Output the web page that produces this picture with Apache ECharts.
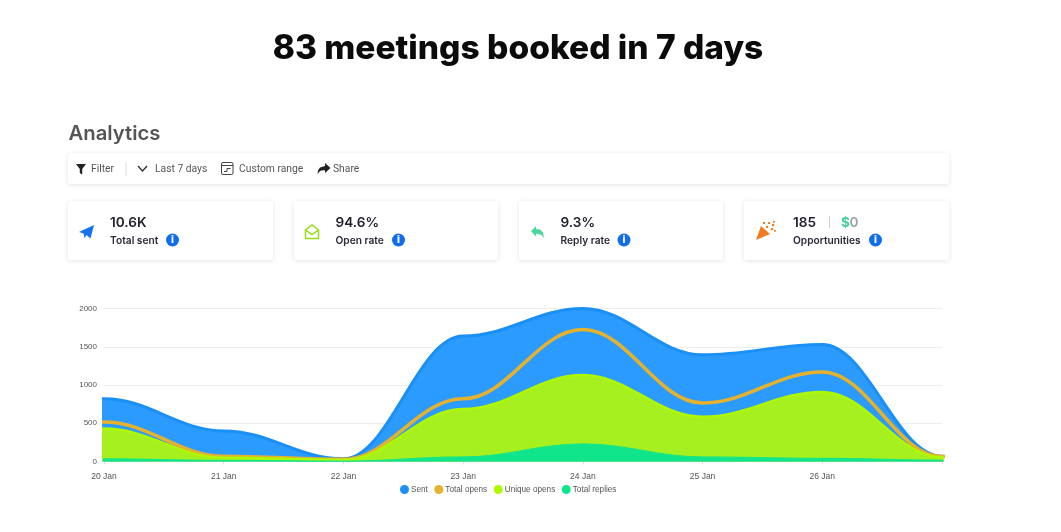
<!DOCTYPE html>
<html>
<head>
<meta charset="utf-8">
<title>83 meetings booked in 7 days</title>
<script src="https://cdn.jsdelivr.net/npm/echarts@6/dist/echarts.min.js"></script>
<style>
html,body{margin:0;padding:0;background:#fff}
#main{width:1061px;height:532px}
</style>
</head>
<body>
<div id="main"></div>
<script>
// Daily campaign figures
const days = ['20 Jan','21 Jan','22 Jan','23 Jan','24 Jan','25 Jan','26 Jan',''];
const sent = [820,400,35,1640,2000,1395,1530,70];
const totalOpens = [515,70,28,820,1725,765,1170,65];
const uniqueOpens = [430,50,20,685,1130,585,910,55];
const totalReplies = [35,15,5,60,230,60,42,18];
const yTicks = [0,500,1000,1500,2000];

// Summary cards
const cardValues = ['10.6K','94.6%','9.3%','185'];
const cardLabels = ['Total sent','Open rate','Reply rate','Opportunities'];

const headFont = 'Inter, "Noto Sans", sans-serif';
const uiFont = 'Roboto, sans-serif';

function label(text, x, y, size, weight, fill, font, align) {
  return {type:'text', silent:true, z:10, x, y, style:{text, fontSize:size, fontWeight:weight, fill,
    fontFamily:font || headFont, align:align || 'left', verticalAlign:'middle'}};
}
function panel(x, y, w, h) {
  return {type:'rect', silent:true, z:1, shape:{x, y, width:w, height:h, r:2},
    style:{fill:'#fff', shadowBlur:5, shadowOffsetY:1, shadowColor:'rgba(0,0,0,0.11)'}};
}
// Small UI glyphs are drawn as filled polygons or stroked polylines in page pixels
function glyph(points, fill) {
  return {type:'polygon', silent:true, z:10, shape:{points}, style:{fill}};
}
function stroke(points, color, width) {
  return {type:'polyline', silent:true, z:10, shape:{points}, style:{fill:'none', stroke:color, lineWidth:width}};
}
function infoBadge(cx, cy) {
  return [
    {type:'circle', silent:true, z:10, shape:{cx, cy, r:6.5}, style:{fill:'#0f6ef0'}},
    {type:'text', silent:true, z:11, x:cx, y:cy, style:{text:'i', fontSize:10, fontWeight:800, fill:'#fff',
      fontFamily:'"DejaVu Sans", sans-serif', align:'center', verticalAlign:'middle'}}
  ];
}
function confetti(x, y, s) {
  return {type:'rect', silent:true, z:10, shape:{x, y, width:s, height:s}, style:{fill:'#f47a20'}};
}

const cardX = [68, 294, 519, 744];
const cardW = [205, 204, 204, 205];
const badgeX = [172.5, 398.5, 624, 875.5];
const chrome = [
  label('83 meetings booked in 7 days', 518, 49, 33.5, 800, '#0b0b0b', headFont, 'center'),
  label('Analytics', 68.5, 134, 20.3, 600, '#555555'),
  panel(68, 153, 881, 31),
  label('Filter', 91, 169, 10.3, 400, '#555', uiFont),
  label('Last 7 days', 155, 169, 10.3, 400, '#555', uiFont),
  label('Custom range', 239, 169, 10.3, 400, '#555', uiFont),
  label('Share', 333, 169, 10.3, 400, '#555', uiFont),
  {type:'line', silent:true, z:10, shape:{x1:126, y1:162, x2:126, y2:176}, style:{stroke:'#ddd', lineWidth:1}},
  glyph([[76,164],[86,164],[82.2,169],[82.2,174.5],[79.8,173],[79.8,169]], '#222'),
  stroke([[138,166],[142.5,171],[147,166]], '#333', 1.4),
  {type:'rect', silent:true, z:10, shape:{x:221.5, y:162.5, width:11.5, height:12, r:1.5}, style:{fill:'none', stroke:'#444', lineWidth:1}},
  stroke([[221.5,165.5],[233,165.5]], '#444', 1),
  stroke([[224,171.5],[227,171.5],[227,168.5],[230.5,168.5]], '#444', 1),
  glyph([[325,163],[330.5,168],[325,173],[325,170.2],[321,170.6],[319,172],[317.5,174.5],[318,170.5],[320,167.5],[325,166]], '#222')
];
cardX.forEach((x, i) => {
  const tx = x + (i === 3 ? 49 : i === 0 ? 42 : 41.5);
  chrome.push(panel(x, 201, cardW[i], 59));
  chrome.push(label(cardValues[i], tx, 223, 13.6, 600, '#22222e'));
  chrome.push(label(cardLabels[i], tx, 240.5, 10.2, 600, '#2a2a3a'));
  chrome.push(...infoBadge(badgeX[i], 240));
});
chrome.push(
  glyph([[94,225],[90.5,238.5],[86.5,235],[84.5,238],[83.6,233.5],[79,232]], '#1670f0'),
  stroke([[305.5,230],[312,225],[318.5,230],[318.5,238.5],[305.5,238.5],[305.5,230],[312,234.5],[318.5,230]], '#98dc12', 1.5),
  glyph([[536,226],[536,229],[540,229.6],[543,232.5],[544,238],[541.5,235],[536,233.5],[536,236.5],[531,231.2]], '#4bd6a0'),
  glyph([[761,226],[770,234],[756,240]], '#f47a20'),
  confetti(763,222,2), confetti(768,222,2), confetti(772,224,2.2),
  confetti(766,226,2), confetti(771,228,2.2), confetti(774,230,1.8), confetti(773,221,1.8),
  label('|', 828, 223, 10, 400, '#c4c4c4'),
  label('$', 841, 223, 13.6, 700, '#45cf96'),
  label('0', 849.5, 223, 13.6, 600, '#9aa3a8')
);

const axisFont = '"Liberation Sans", Arial, sans-serif';

// Each series gets a flat lead-in and lead-out just past the axis range so the
// curve leaves the first day and reaches the last day level; the grid clips them.
function levelEnds(values) {
  const pts = values.map((v, i) => [i, v]);
  return [[-1, values[0]], ...pts, [values.length, values[values.length - 1]]];
}
function areaSeries(name, values, lineColor, fillColor, width, z) {
  return {name, type:'line', data:levelEnds(values), z, smooth:0.38, smoothMonotone:'x', symbol:'none', clip:true,
    itemStyle:{color:lineColor},
    lineStyle:{color:lineColor, width},
    areaStyle: fillColor ? {color:fillColor, opacity:1} : undefined};
}

const chart = echarts.init(document.getElementById('main'), null, {renderer:'canvas'});
chart.setOption({
  animation:false,
  backgroundColor:'#fff',
  graphic:{elements:chrome},
  grid:{left:104, right:119, top:308.5, bottom:70.5, containLabel:false},
  xAxis:{type:'value', min:0, max:days.length - 1, interval:1,
    axisLine:{show:false},
    axisTick:{show:true, length:3, lineStyle:{color:'#ddd'}},
    axisLabel:{color:'#555', fontSize:8.5, fontFamily:axisFont, margin:11, formatter:v => days[v]},
    splitLine:{show:false}},
  yAxis:{type:'value', min:yTicks[0], max:yTicks[yTicks.length - 1], interval:yTicks[1] - yTicks[0],
    axisLine:{show:false}, axisTick:{show:false},
    axisLabel:{color:'#555', fontSize:8, fontFamily:axisFont, margin:7, formatter:v => String(v)},
    splitLine:{lineStyle:{color:'#eeeeee', width:1}}},
  legend:{left:395, top:480, itemWidth:9, itemHeight:9, itemGap:6.5, icon:'circle',
    textStyle:{color:'#555', fontSize:8.2, fontFamily:axisFont, padding:[0,0,0,-3]},
    data:['Sent','Total opens','Unique opens','Total replies']},
  series:[
    areaSeries('Sent', sent, '#1a8ff5', '#2b9bff', 3, 2),
    areaSeries('Total opens', totalOpens, '#e6b22b', null, 3.5, 3),
    areaSeries('Unique opens', uniqueOpens, '#b0f800', '#a6f01f', 2.5, 4),
    areaSeries('Total replies', totalReplies, '#10e58c', '#10e58c', 1, 5)
  ]
});
</script>
</body>
</html>
